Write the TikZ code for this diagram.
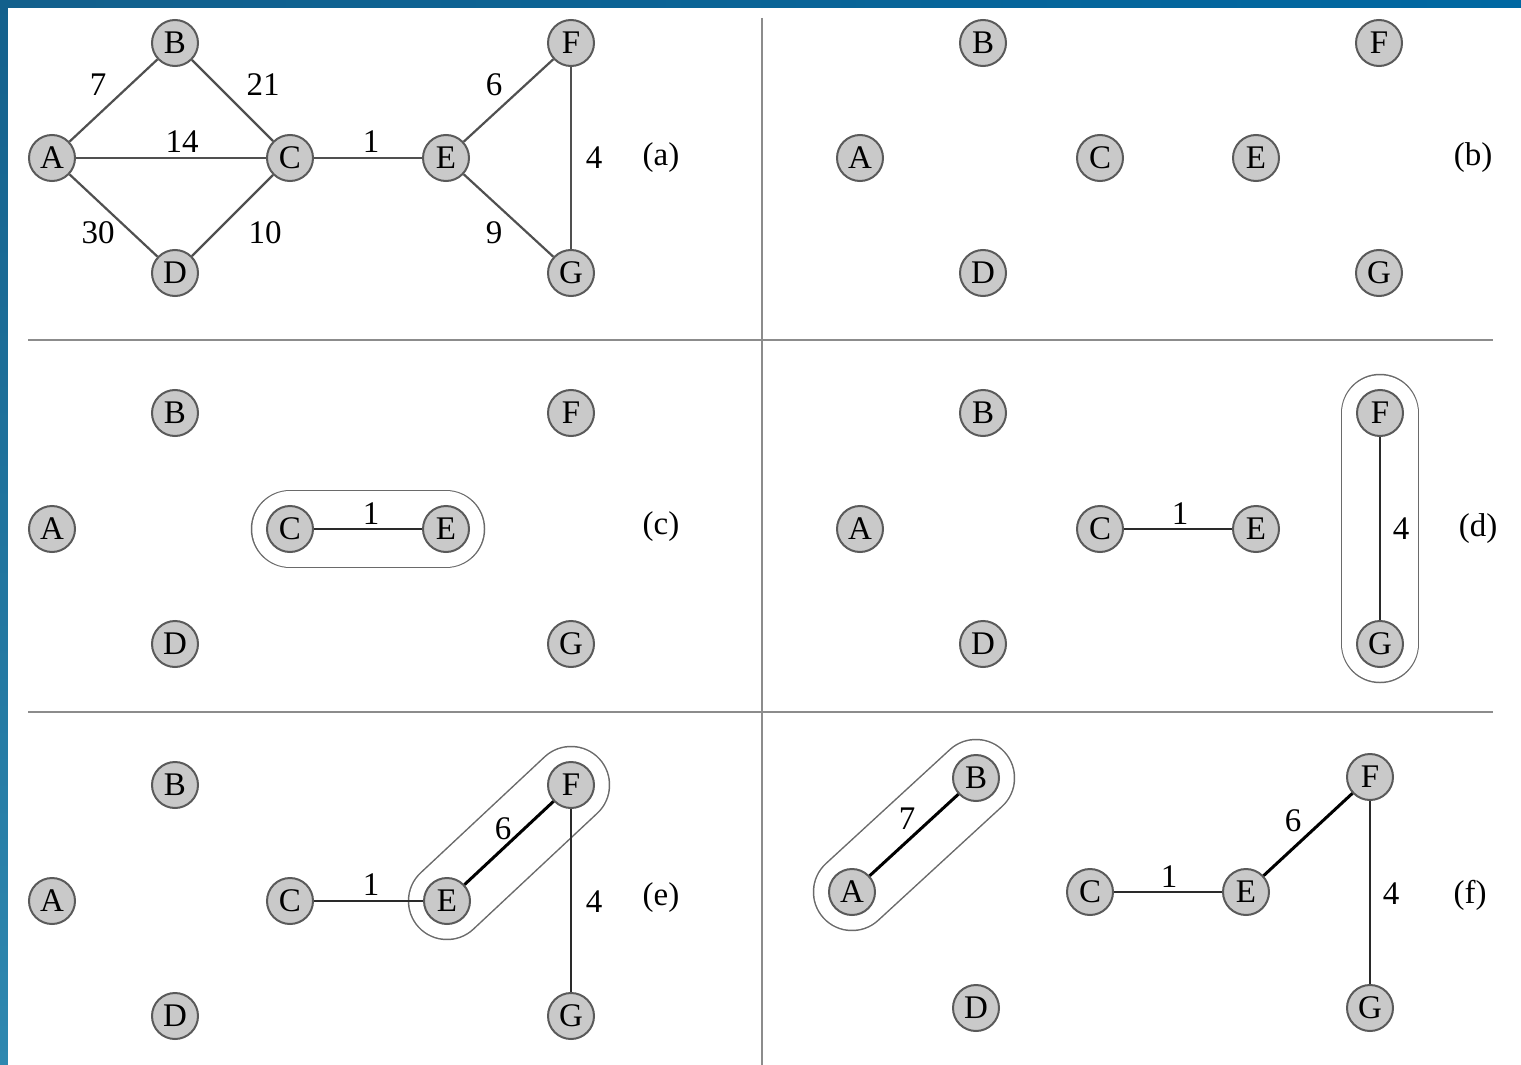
\documentclass[tikz,border=0pt]{standalone}
\usepackage{fontspec}
\setmainfont{Liberation Serif}
\pgfdeclarelayer{back}
\pgfdeclarelayer{bg}
\pgfsetlayers{back,bg,main}
\definecolor{nodefill}{HTML}{C9C9C9}
\definecolor{nodeline}{HTML}{5A5A5A}
\definecolor{edgegray}{HTML}{505050}
\definecolor{edgedark}{HTML}{2A2A2A}
\definecolor{rulegray}{HTML}{8C8C8C}
\definecolor{capgray}{HTML}{6A6A6A}
\definecolor{blueA}{HTML}{13608C}
\definecolor{blueB}{HTML}{0068A2}
\definecolor{blueC}{HTML}{2E88B0}
\tikzset{
  vtx/.style={circle, draw=nodeline, fill=nodefill, line width=1pt, minimum size=23pt, inner sep=0pt, font=\fontsize{16.5pt}{18pt}\selectfont},
  wlabel/.style={inner sep=0pt, font=\fontsize{16.5pt}{18pt}\selectfont},
  plabel/.style={inner sep=0pt, font=\fontsize{16.5pt}{18pt}\selectfont},
  edgeA/.style={draw=edgegray, line width=1.1pt},
  edgeB/.style={draw=edgedark, line width=1.3pt},
  edgeC/.style={draw=black, line width=1.5pt},
  rulel/.style={draw=rulegray, line width=1pt},
  capout/.style={draw=capgray, line width=39.25pt, line cap=round},
  capin/.style={draw=white, line width=37.75pt, line cap=round},
}
\begin{document}
\begin{tikzpicture}[x=0.5pt,y=-0.5pt]
\useasboundingbox (0,0) rectangle (1521,1065);
% frame
\begin{pgfonlayer}{back}
\shade[left color=blueA, right color=blueB] (0,0) rectangle (1521,8);
\shade[top color=blueA, bottom color=blueC] (0,0) rectangle (8,1065);
\fill[white] (8,8) rectangle (1521,1065);
% rules
\draw[rulel] (28,340) -- (1493,340);
\draw[rulel] (28,712) -- (1493,712);
\draw[rulel] (762,18) -- (762,1065);
\end{pgfonlayer}

% ---------- (a)
\node[vtx] (aA) at (52,158) {A};
\node[vtx] (aB) at (175,43) {B};
\node[vtx] (aC) at (290,158) {C};
\node[vtx] (aD) at (175,273) {D};
\node[vtx] (aE) at (446,158) {E};
\node[vtx] (aF) at (571,43) {F};
\node[vtx] (aG) at (571,273) {G};
\draw[edgeA] (aA) -- (aB);
\draw[edgeA] (aB) -- (aC);
\draw[edgeA] (aA) -- (aC);
\draw[edgeA] (aA) -- (aD);
\draw[edgeA] (aD) -- (aC);
\draw[edgeA] (aC) -- (aE);
\draw[edgeA] (aE) -- (aF);
\draw[edgeA] (aE) -- (aG);
\draw[edgeA] (aF) -- (aG);
\node[wlabel] (aw7) at (98,85) {7};
\node[wlabel] (aw21) at (263,85) {21};
\node[wlabel] (aw14) at (182,142) {14};
\node[wlabel] (aw30) at (98,233) {30};
\node[wlabel] (aw10) at (265,233) {10};
\node[wlabel] (aw1) at (371,142) {1};
\node[wlabel] (aw6) at (494,85) {6};
\node[wlabel] (aw9) at (494,233) {9};
\node[wlabel] (aw4) at (594,158) {4};
\node[plabel] (pa) at (661,158) {(a)};

% ---------- (b)
\node[vtx] (bA) at (860,158) {A};
\node[vtx] (bB) at (983,43) {B};
\node[vtx] (bC) at (1100,158) {C};
\node[vtx] (bD) at (983,273) {D};
\node[vtx] (bE) at (1256,158) {E};
\node[vtx] (bF) at (1379,43) {F};
\node[vtx] (bG) at (1379,273) {G};
\node[plabel] (pb) at (1473,158) {(b)};

% ---------- (c)
\node[vtx] (cA) at (52,529) {A};
\node[vtx] (cB) at (175,413) {B};
\node[vtx] (cC) at (290,529) {C};
\node[vtx] (cD) at (175,644) {D};
\node[vtx] (cE) at (446,529) {E};
\node[vtx] (cF) at (571,413) {F};
\node[vtx] (cG) at (571,644) {G};
\begin{pgfonlayer}{bg}
\draw[capout] (cC.center) -- (cE.center);
\draw[capin] (cC.center) -- (cE.center);
\end{pgfonlayer}
\draw[edgeB] (cC) -- (cE);
\node[wlabel] (cw1) at (371,514) {1};
\node[plabel] (pc) at (661,527) {(c)};

% ---------- (d)
\node[vtx] (dA) at (860,529) {A};
\node[vtx] (dB) at (983,413) {B};
\node[vtx] (dC) at (1100,529) {C};
\node[vtx] (dD) at (983,644) {D};
\node[vtx] (dE) at (1256,529) {E};
\node[vtx] (dF) at (1380,413) {F};
\node[vtx] (dG) at (1380,644) {G};
\begin{pgfonlayer}{bg}
\draw[capout] (dF.center) -- (dG.center);
\draw[capin] (dF.center) -- (dG.center);
\end{pgfonlayer}
\draw[edgeB] (dC) -- (dE);
\draw[edgeB] (dF) -- (dG);
\node[wlabel] (dw1) at (1180,514) {1};
\node[wlabel] (dw4) at (1401,529) {4};
\node[plabel] (pd) at (1478,529) {(d)};

% ---------- (e)
\node[vtx] (eA) at (52,901) {A};
\node[vtx] (eB) at (175,785) {B};
\node[vtx] (eC) at (290,901) {C};
\node[vtx] (eD) at (175,1016) {D};
\node[vtx] (eE) at (447,901) {E};
\node[vtx] (eF) at (571,785) {F};
\node[vtx] (eG) at (571,1016) {G};
\begin{pgfonlayer}{bg}
\draw[capout] (eE.center) -- (eF.center);
\draw[capin] (eE.center) -- (eF.center);
\end{pgfonlayer}
\draw[edgeB] (eC) -- (eE);
\draw[edgeC] (eE) -- (eF);
\draw[edgeB] (eF) -- (eG);
\node[wlabel] (ew1) at (371,885) {1};
\node[wlabel] (ew6) at (503,829) {6};
\node[wlabel] (ew4) at (594,902) {4};
\node[plabel] (pe) at (661,898) {(e)};

% ---------- (f)
\node[vtx] (fA) at (852,892) {A};
\node[vtx] (fB) at (976,778) {B};
\node[vtx] (fC) at (1090,892) {C};
\node[vtx] (fD) at (976,1008) {D};
\node[vtx] (fE) at (1246,892) {E};
\node[vtx] (fF) at (1370,777) {F};
\node[vtx] (fG) at (1370,1008) {G};
\begin{pgfonlayer}{bg}
\draw[capout] (fA.center) -- (fB.center);
\draw[capin] (fA.center) -- (fB.center);
\end{pgfonlayer}
\draw[edgeC] (fA) -- (fB);
\draw[edgeB] (fC) -- (fE);
\draw[edgeC] (fE) -- (fF);
\draw[edgeB] (fF) -- (fG);
\node[wlabel] (fw7) at (907,819) {7};
\node[wlabel] (fw1) at (1169,877) {1};
\node[wlabel] (fw6) at (1293,821) {6};
\node[wlabel] (fw4) at (1391,894) {4};
\node[plabel] (pf) at (1470,895) {(f)};
\end{tikzpicture}
\end{document}
